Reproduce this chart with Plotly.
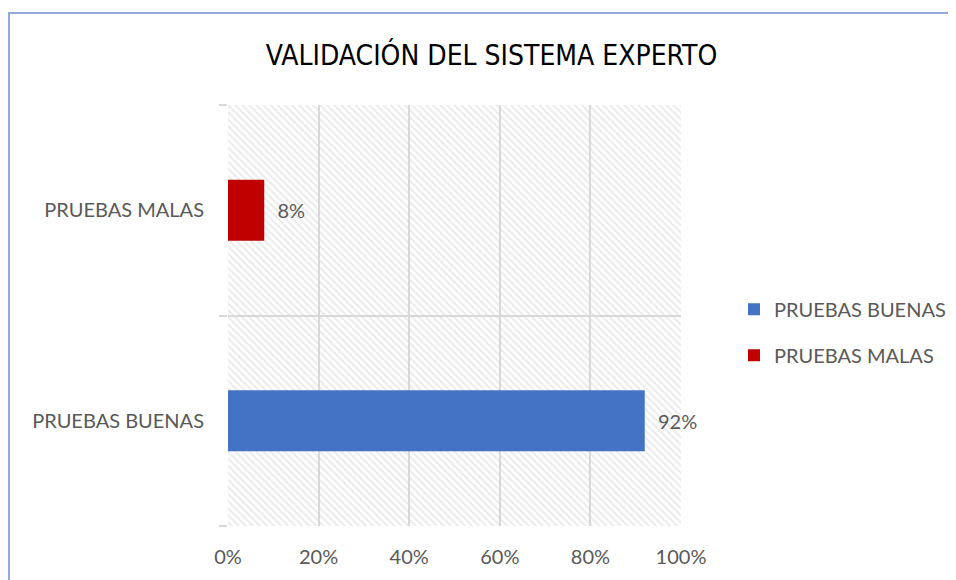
import plotly.graph_objects as go

CATEGORIAS = ["PRUEBAS BUENAS", "PRUEBAS MALAS"]
VALORES = [0.92, 0.08]
COLORES = ["#4472C4", "#C00000"]
TICKS_X = [0, 0.2, 0.4, 0.6, 0.8, 1.0]
TICKS_X_TEXTO = ["0%", "20%", "40%", "60%", "80%", "100%"]

GRIS_TEXTO = "#595959"
GRIS_GRADE = "#D9D9D9"
FUENTE = "Lato, Liberation Sans, sans-serif"

fig = go.Figure()

# fondo rayado del área de trazado
fig.add_trace(go.Bar(
    x=[TICKS_X[-1]] * len(CATEGORIAS),
    y=CATEGORIAS,
    orientation="h",
    width=1,
    marker=dict(
        color="rgba(0,0,0,0)",
        line=dict(width=0),
        pattern=dict(shape="\\", fgcolor="#D6D6D6", size=5, solidity=0.4),
    ),
    showlegend=False,
    hoverinfo="skip",
))

for cat, val, col in zip(CATEGORIAS, VALORES, COLORES):
    fig.add_trace(go.Bar(
        x=[val],
        y=[cat],
        name=cat,
        legendgroup=cat,
        orientation="h",
        width=0.29,
        marker=dict(color=col, line=dict(width=0)),
        text=[f"  {val:.0%}"],
        textposition="outside",
        textfont=dict(color=GRIS_TEXTO, size=20, family=FUENTE),
        cliponaxis=False,
    ))

fig.update_layout(
    width=956,
    height=580,
    barmode="overlay",
    paper_bgcolor="white",
    plot_bgcolor="white",
    margin=dict(l=220, r=283, t=97, b=62),
    font=dict(family=FUENTE, size=20, color=GRIS_TEXTO),
    title=dict(
        text="VALIDACIÓN DEL SISTEMA EXPERTO",
        x=0.5058, xanchor="center",
        y=0.919, yanchor="middle",
        font=dict(family="Liberation Sans Narrow, DejaVu Sans Condensed, sans-serif",
                  size=28, color="#000000"),
    ),
    legend=dict(
        x=1.117, y=0.46, xanchor="left", yanchor="middle",
        traceorder="grouped",
        font=dict(size=20, color=GRIS_TEXTO, family=FUENTE),
        itemwidth=30,
        tracegroupgap=17,
    ),
    shapes=[dict(
        type="rect", xref="paper", yref="paper",
        x0=-0.4834, x1=1.66, y0=-0.2, y1=1.2185,
        line=dict(color="#8EA9DB", width=2),
        layer="below",
    )],
)

fig.update_xaxes(
    range=[0, 1],
    tickvals=TICKS_X,
    ticktext=TICKS_X_TEXTO,
    showgrid=True,
    gridcolor=GRIS_GRADE,
    gridwidth=2,
    zeroline=False,
    showline=False,
    ticks="",
    ticklabelstandoff=17,
)

fig.update_yaxes(
    categoryorder="array",
    categoryarray=CATEGORIAS,
    tickson="boundaries",
    ticks="outside",
    ticklen=8,
    tickcolor=GRIS_GRADE,
    tickwidth=2,
    showgrid=True,
    gridcolor=GRIS_GRADE,
    gridwidth=2,
    showline=False,
    zeroline=False,
    ticklabelstandoff=23,
)

fig.write_html("out.html")
